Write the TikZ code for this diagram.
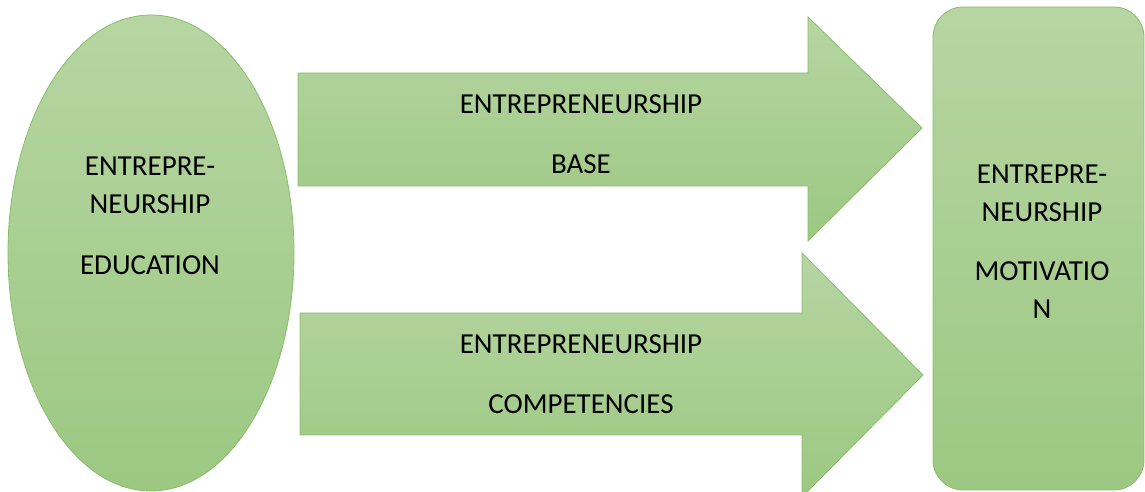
\documentclass[tikz,border=0pt]{standalone}
\usepackage{fontspec}
\setmainfont{Carlito}
\definecolor{leafTop}{RGB}{182,213,162}
\definecolor{leafBottom}{RGB}{156,200,130}
\definecolor{leafLine}{RGB}{136,190,106}
\begin{document}
\begin{tikzpicture}[x=1pt,y=1pt,
  greenfill/.style={draw=leafLine,line width=0.8pt,top color=leafTop,bottom color=leafBottom},
  label/.style={inner sep=0pt,anchor=north,align=center,font=\fontsize{29}{38}\selectfont}]
\useasboundingbox (0,0) rectangle (1145,492);
% left ellipse
\draw[greenfill] (151,239) ellipse (143 and 238);
% the two block arrows
\draw[greenfill] (298,419) -- (808,419) -- (808,475) -- (922,364) -- (808,251) -- (808,306) -- (298,306) -- cycle;
\draw[greenfill] (300,179) -- (802,179) -- (802,239) -- (923,117) -- (802,-5) -- (802,57) -- (300,57) -- cycle;
% right box
\draw[greenfill,rounded corners=30] (933,2) rectangle (1144,485);
\node[label] (edu) at (150,335) {ENTREPRE-\\NEURSHIP\\[23pt]EDUCATION};
\node[label] (base) at (581,398) {ENTREPRENEURSHIP\\[22pt]BASE};
\node[label] (comp) at (581,158) {ENTREPRENEURSHIP\\[22pt]COMPETENCIES};
\node[label] (motiv) at (1042,327) {ENTREPRE-\\NEURSHIP\\[21pt]MOTIVATIO\\N};
\end{tikzpicture}
\end{document}
